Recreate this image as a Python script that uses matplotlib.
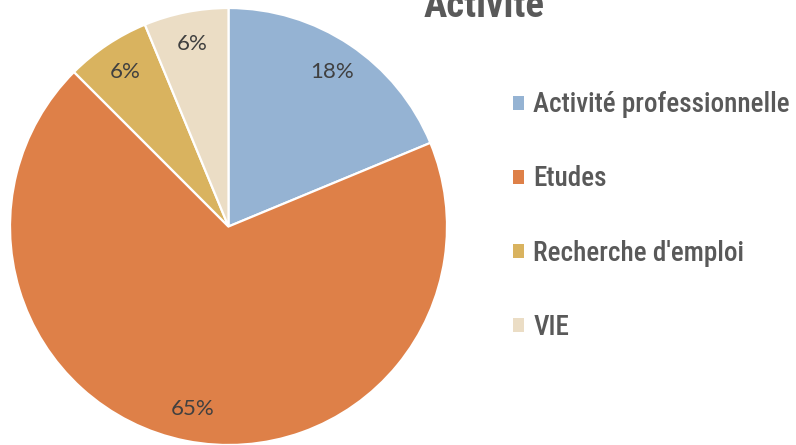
import matplotlib.pyplot as plt
from matplotlib.patches import Patch

# slice shares, labels as printed on the chart
categories = ["Activité professionnelle", "Etudes", "Recherche d'emploi", "VIE"]
shares = [18.75, 68.75, 6.25, 6.25]
pct_labels = ["18%", "65%", "6%", "6%"]
colors = ["#95B3D3", "#DE8048", "#D9B35F", "#EBDDC5"]

W, H = 796, 445
fig = plt.figure(figsize=(W / 100, H / 100), dpi=100)

# pie: centre (228.5, 226.5) px, radius 218.5 px
cx, cy, r = 228.5, 226.5, 218.5
ax = fig.add_axes([(cx - r) / W, (H - cy - r) / H, 2 * r / W, 2 * r / H])
wedges, texts, autotexts = ax.pie(
    shares, colors=colors, startangle=90, counterclock=False,
    radius=1, autopct="%1.0f%%", pctdistance=0.85,
    wedgeprops=dict(edgecolor="white", linewidth=1.6),
    textprops=dict(fontsize=16, color="#404040", family=["Lato", "DejaVu Sans"]))
for t, lab in zip(autotexts, pct_labels):
    t.set_text(lab)
ax.set_xlim(-1, 1)
ax.set_ylim(-1, 1)
ax.set_aspect("equal")
ax.axis("off")

narrow = ["Roboto Condensed", "Roboto", "DejaVu Sans"]
fig.text(484 / W, 1 - 17 / H, "Activité", ha="center", va="baseline",
         fontsize=28, fontweight="bold", color="#595959", family=narrow)

handles = [Patch(facecolor=c, edgecolor="none") for c in colors]
leg = fig.legend(handles, categories, loc="upper left",
                 bbox_to_anchor=(489 / W, 1 - 67 / H), frameon=False,
                 prop=dict(family=narrow, size=19.5, weight="medium"),
                 handlelength=0.4, handleheight=0.4, handletextpad=0.33,
                 labelspacing=1.74, labelcolor="#595959")

fig.savefig("out.png", dpi=100)
